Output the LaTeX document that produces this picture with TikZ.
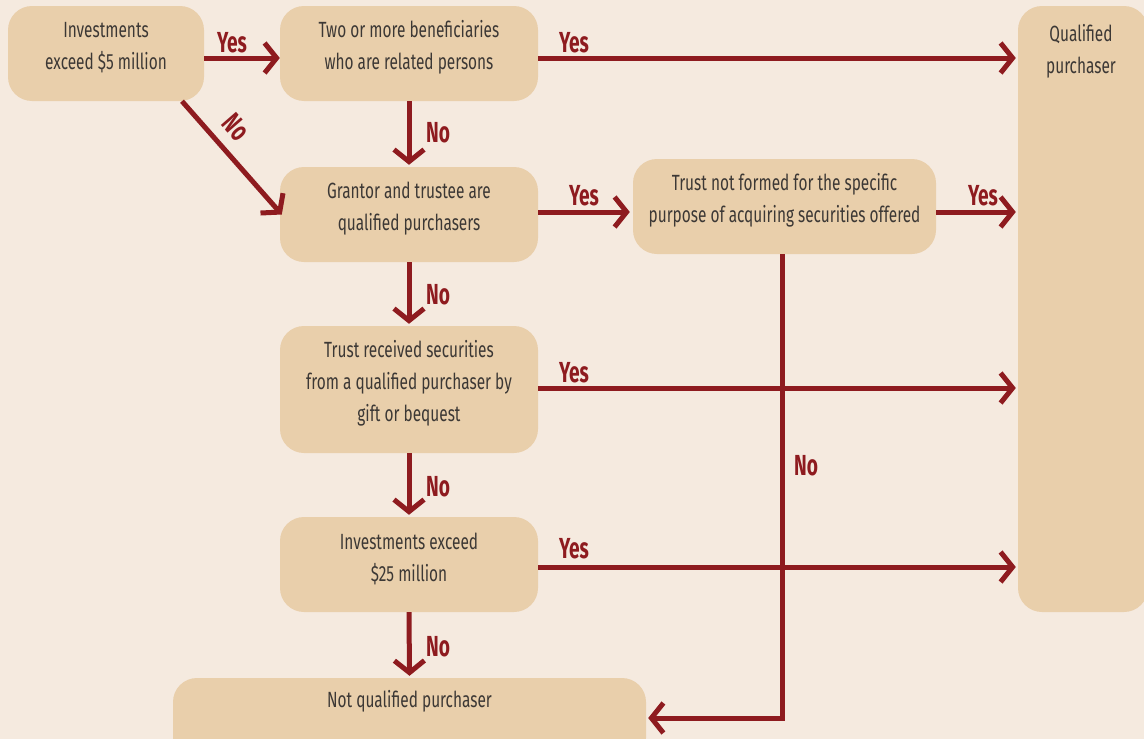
\documentclass[tikz,border=0pt]{standalone}
\usepackage{fontspec}
\setmainfont{Fira Sans}[FakeStretch=0.7]
\newfontfamily\labfont{Fira Sans Bold}[FakeStretch=0.66]
\usetikzlibrary{arrows.meta,calc}
\definecolor{bgc}{HTML}{F5EADF}
\definecolor{boxc}{HTML}{E9CFAB}
\definecolor{arr}{HTML}{8E1B1F}
\definecolor{txt}{HTML}{3C3835}
\tikzset{
  box/.style={fill=boxc, rounded corners=24pt, inner sep=0pt},
  boxtext/.style={align=center, text=txt, font=\fontsize{22}{32}\selectfont, inner sep=0pt},
  conn/.style={draw=arr, line width=5pt, -{Straight Barb[length=12pt,width=30pt]}},
  lab/.style={text=arr, font=\labfont\fontsize{29}{30}\selectfont, inner sep=0pt}
}
\begin{document}
\begin{tikzpicture}[x=1pt,y=-1pt]
\useasboundingbox (0,0) rectangle (1144,739);
\clip (0,0) rectangle (1144,739);
\fill[bgc] (0,0) rectangle (1144,739);

\node[box, minimum width=196pt, minimum height=95pt] (A) at (106,53.5) {};
\node[boxtext] (At) at ($(A)+(0,-6)$) {Investments\\exceed \$5 million};
\node[box, minimum width=258pt, minimum height=95pt] (B) at (409,53.5) {};
\node[boxtext] (Bt) at ($(B)+(0,-6)$) {Two or more beneficiaries\\who are related persons};
\node[box, minimum width=258pt, minimum height=95pt] (C) at (409,214.5) {};
\node[boxtext] (Ct) at ($(C)+(0,-6)$) {Grantor and trustee are\\qualified purchasers};
\node[box, minimum width=303pt, minimum height=95pt] (D) at (784.5,206.5) {};
\node[boxtext] (Dt) at ($(D)+(0,-6)$) {Trust not formed for the specific\\purpose of acquiring securities offered};
\node[box, minimum width=258pt, minimum height=127pt] (E) at (409,389.5) {};
\node[boxtext] (Et) at ($(E)+(0,-6)$) {Trust received securities\\from a qualified purchaser by\\gift or bequest};
\node[box, minimum width=258pt, minimum height=95pt] (F) at (409,564.5) {};
\node[boxtext] (Ft) at ($(F)+(0,-6)$) {Investments exceed\\\$25 million};
\node[box, minimum width=473pt, minimum height=84pt] (G) at (409.5,720) {};
\node[boxtext] (Gt) at (409.5,701) {Not qualified purchaser};
\node[box, minimum width=130pt, minimum height=606pt] (Q) at (1083,309) {};
\node[boxtext] (Qt) at (1081,51) {Qualified\\purchaser};

% connectors
\draw[conn] ($(A.east)+(0,4.5)$) -- ($(B.west)+(0,4.5)$);
\draw[conn] ($(B.east)+(0,4.5)$) -- ($(B.east -| Q.west)+(-2,4.5)$);
\draw[conn] (B.south) -- ($(C.north)+(0,-2)$);
\draw[conn] ($(A.south)+(76,0)$) -- ($(C.west)+(2,0)$);
\draw[conn] ($(C.east)+(0,-2.5)$) -- ($(D.west)+(-3,5.5)$);
\draw[conn] ($(D.east)+(0,5.5)$) -- ($(D.east -| Q.west)+(-2,5.5)$);
\draw[conn] (C.south) -- ($(E.north)+(0,-2)$);
\draw[conn] ($(E.east)+(0,-1.5)$) -- ($(E.east -| Q.west)+(-2,-1.5)$);
\draw[conn] (E.south) -- ($(F.north)+(0,-2)$);
\draw[conn] ($(F.east)+(0,2.5)$) -- ($(F.east -| Q.west)+(-2,2.5)$);
\draw[conn] (F.south) -- ($(G.north)+(0,-2)$);
\draw[conn] ($(D.south)+(-2.5,0)$) |- ($(G.east)+(2,-2)$);

% labels
\node[lab] (l1) at (232,43) {Yes};
\node[lab] (l2) at (574,43) {Yes};
\node[lab] (l3) at (438,133) {No};
\node[lab, rotate=-49] (l4) at (236,127) {No};
\node[lab] (l5) at (584,196) {Yes};
\node[lab] (l6) at (983,196) {Yes};
\node[lab] (l7) at (438,295) {No};
\node[lab] (l8) at (574,373) {Yes};
\node[lab] (l9) at (438,487) {No};
\node[lab] (l10) at (806,466) {No};
\node[lab] (l11) at (574,549) {Yes};
\node[lab] (l12) at (438,647) {No};
\end{tikzpicture}
\end{document}
